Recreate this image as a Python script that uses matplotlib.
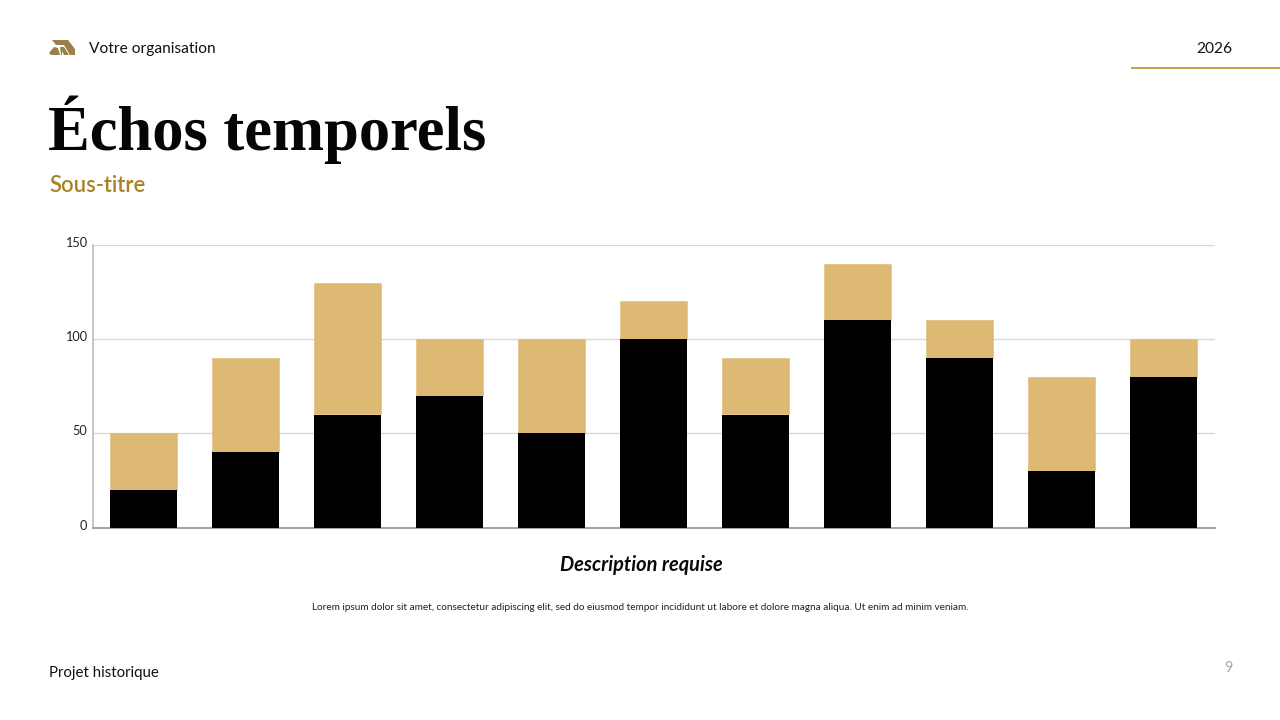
import matplotlib
matplotlib.use("Agg")
import matplotlib.pyplot as plt
from matplotlib.patches import Polygon
from matplotlib.lines import Line2D
from matplotlib.transforms import ScaledTranslation
import numpy as np

categories = list(range(1, 12))
black_values = [20, 40, 60, 70, 50, 100, 60, 110, 90, 30, 80]
gold_values = [30, 50, 70, 30, 50, 20, 30, 30, 20, 50, 20]
y_ticks = [0, 50, 100, 150]

W, H = 1280, 720
SANS = ["Lato", "DejaVu Sans"]
fig = plt.figure(figsize=(W / 100, H / 100), dpi=100, facecolor="white")


def fx(px):
    return px / W


def fy(px):
    return 1 - px / H


ax = fig.add_axes([fx(93), fy(527.5), fx(1215) - fx(93), (527.5 - 245) / H])
x = np.arange(len(categories))
ax.bar(x, gold_values, bottom=black_values, width=0.66, color="#DDB974",
       edgecolor="#DDB974", linewidth=0.4, zorder=2.5)
ax.bar(x, black_values, width=0.66, color="#000000", zorder=3)
ax.set_xlim(-0.495, len(categories) - 0.495)
ax.set_ylim(0, 150)
ax.set_yticks(y_ticks)
ax.set_yticklabels([str(v) for v in y_ticks], family=SANS, fontsize=9.2, color="#222222")
ax.set_xticks([])
ax.tick_params(axis="y", length=0, pad=4.3)
shift = ScaledTranslation(0, 2 / 72 * 0.72, fig.dpi_scale_trans)
for lab in ax.get_yticklabels():
    lab.set_verticalalignment("center")
    lab.set_transform(lab.get_transform() + shift)
ax.grid(axis="y", color="#D9D9D9", linewidth=1, zorder=0)
for side in ("top", "right"):
    ax.spines[side].set_visible(False)
ax.spines["left"].set_color("#BDBDBD")
ax.spines["left"].set_linewidth(1.2)
ax.spines["bottom"].set_color("#A6A6A6")
ax.spines["bottom"].set_linewidth(1.5)

# header
fig.text(fx(89), fy(49), "Votre organisation", family=SANS, fontsize=11.2, color="#111111", va="center")
fig.text(fx(1214), fy(49), "2026", family=SANS, fontsize=11.2, color="#111111", va="center", ha="center")
fig.add_artist(Line2D([fx(1131.5), 1], [fy(67.5), fy(67.5)], color="#B39B3C", linewidth=1.3))

# logo
logo = "#9A8048"
for pts in (
    [(52, 40), (68, 40), (75, 49), (75, 55), (70, 55), (64, 45), (56, 45)],
    [(49, 53), (54, 47), (58, 48), (60, 55), (51, 55)],
    [(60, 47), (64, 47), (69, 55), (64, 55), (62, 51), (62, 55), (61, 55)],
):
    fig.add_artist(Polygon([(fx(a), fy(b)) for a, b in pts], closed=True, color=logo, lw=0,
                           transform=fig.transFigure))

# titles
fig.text(fx(48.5), fy(150), "Échos temporels", family=["Liberation Serif"], fontweight="bold",
         fontsize=45, color="#050505", va="baseline")
fig.text(fx(49), fy(185), "Sous-titre", family=SANS, fontweight="semibold", fontsize=15.8,
         color="#AB8128", va="center")

# footer and captions
fig.text(fx(641), fy(565), "Description requise", family=SANS, fontweight="bold", style="italic",
         fontsize=14.4, color="#0A0A0A", ha="center", va="center")
fig.text(fx(640), fy(608), "Lorem ipsum dolor sit amet, consectetur adipiscing elit, sed do eiusmod tempor "
         "incididunt ut labore et dolore magna aliqua. Ut enim ad minim veniam.",
         family=SANS, fontsize=7.2, color="#222222", ha="center", va="center")
fig.text(fx(49), fy(673), "Projet historique", family=SANS, fontsize=10.8, color="#111111", va="center")
fig.text(fx(1228), fy(667.5), "9", family=SANS, fontsize=10.5, color="#A8A8A8", ha="center", va="center")

fig.savefig("out.png", dpi=100, facecolor="white")
